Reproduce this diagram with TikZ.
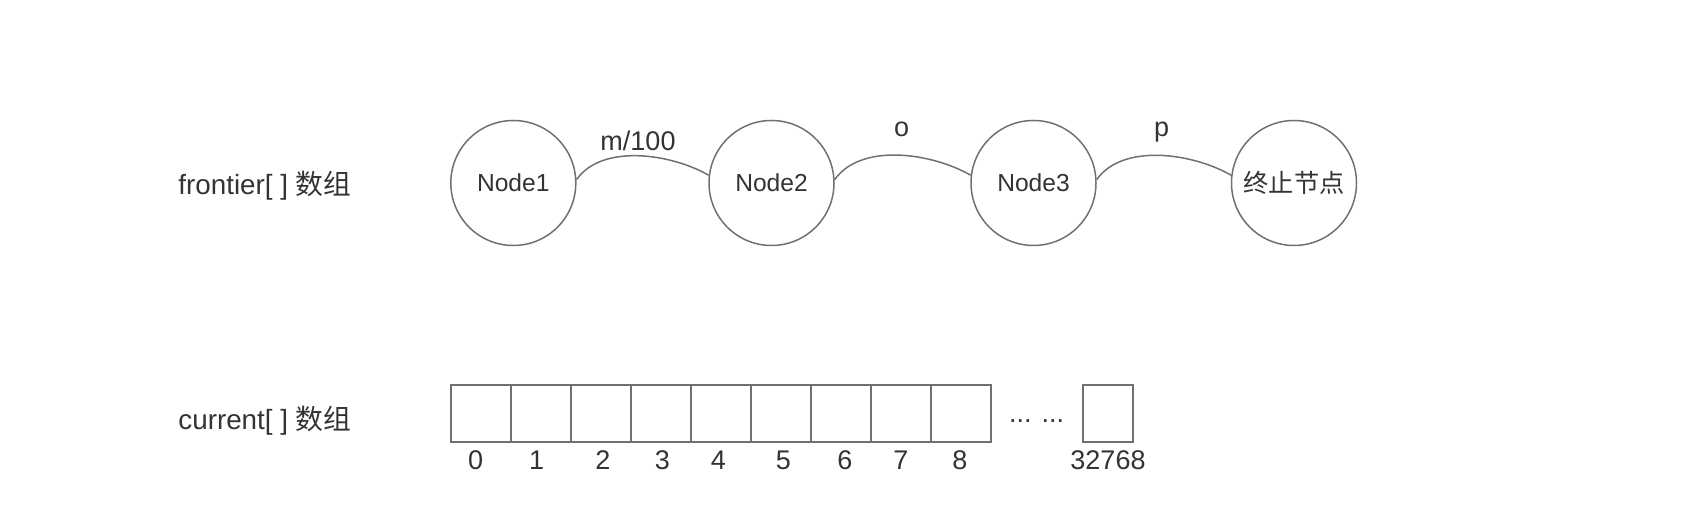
\documentclass[tikz,border=0pt]{standalone}
\usepackage{fontspec}
\setmainfont{Liberation Sans}
\newfontfamily\cjk{Noto Sans CJK SC}
\definecolor{linegray}{HTML}{707070}
\definecolor{textgray}{HTML}{333333}
\tikzset{
  listnode/.style={circle,draw=linegray,line width=0.75pt,minimum size=62.5pt,inner sep=0pt,
    text=textgray,font=\fontsize{12.3}{14}\selectfont},
  cell/.style={draw=linegray,line width=1pt,minimum width=30pt,minimum height=28.3pt,inner sep=0pt},
  link/.style={draw=linegray,line width=0.75pt,out=55,in=150,looseness=0.85},
  lbl/.style={text=textgray,inner sep=0pt,font=\fontsize{13.5}{16}\selectfont},
}
\begin{document}
\begin{tikzpicture}[x=0.5pt,y=-0.5pt]
\useasboundingbox (0,0) rectangle (1694,512);
% the two arrays
\node[lbl,anchor=base west,font=\fontsize{13.9}{16}\selectfont] (flabel) at (178,195) {frontier[ ] {\cjk 数组}};
\node[lbl,anchor=base west,font=\fontsize{13.9}{16}\selectfont] (clabel) at (178,430) {current[ ] {\cjk 数组}};
% frontier[]
\node[listnode] (n1) at (513.3,183) {Node1};
\node[listnode] (n2) at (771.5,183) {Node2};
\node[listnode] (n3) at (1033.5,183) {Node3};
\node[listnode] (nend) at (1294,183) {\cjk\fontsize{12.6}{14}\selectfont 终止节点};
\draw[link] (n1.3) to (n2.173);
\draw[link] (n2.3) to (n3.173);
\draw[link] (n3.3) to (nend.173);
\node[lbl,anchor=base] (w12) at (638,150.5) {m/100};
\node[lbl,anchor=base] (w23) at (901.7,136.5) {o};
\node[lbl,anchor=base] (w3e) at (1161.7,137) {p};
% current[]
\foreach \i in {0,...,8}
  \node[cell] (c\i) at (480.7+60*\i,413.35) {};
\foreach \i/\x in {0/475.7,1/536.7,2/603,3/662.3,4/718.5,5/783.3,6/844.9,7/901,8/960}
  \node[lbl,anchor=base] (d\i) at (\x,470) {\i};
\node[lbl,anchor=base] (dots) at (1036.7,423) {... ...};
\node[cell,minimum width=25pt] (clast) at (1107.7,413.35) {};
\node[lbl,anchor=base] (dlast) at (1108,470) {32768};
\end{tikzpicture}
\end{document}
